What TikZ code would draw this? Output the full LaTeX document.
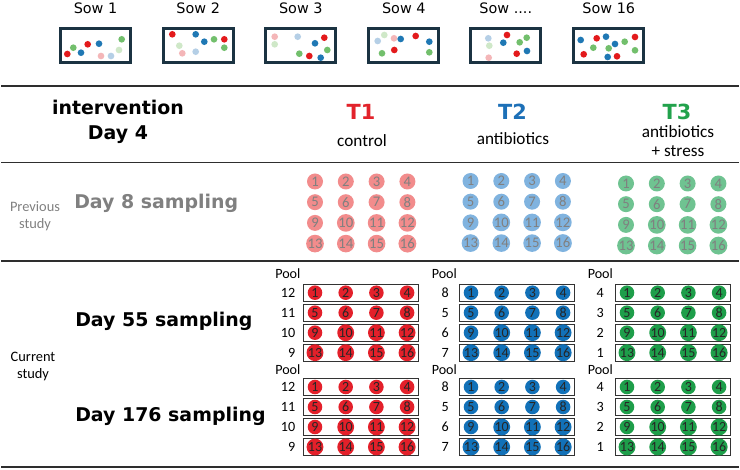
\documentclass[tikz,border=0pt]{standalone}
\usepackage{fontspec}
\setmainfont{DejaVu Sans}
\newfontfamily\calfont{Carlito}
\definecolor{SowFrame}{HTML}{1B3342}
\definecolor{SowR}{HTML}{E31A1C}
\definecolor{SowB}{HTML}{1F78B4}
\definecolor{SowG}{HTML}{72BF6C}
\definecolor{SowLR}{HTML}{F4B6B8}
\definecolor{SowLB}{HTML}{B5CFE6}
\definecolor{SowLG}{HTML}{CFE8C8}
\definecolor{TRed}{HTML}{E2232B}
\definecolor{TBlue}{HTML}{1D70B7}
\definecolor{TGreen}{HTML}{22A24C}
\definecolor{PrevRed}{HTML}{F28C8C}
\definecolor{PrevBlue}{HTML}{80B3DF}
\definecolor{PrevGreen}{HTML}{6FC391}
\definecolor{CurRed}{HTML}{E3202A}
\definecolor{CurBlue}{HTML}{1271B8}
\definecolor{CurGreen}{HTML}{1E9E4A}
\definecolor{RuleGray}{HTML}{2E2E2E}
\definecolor{LabelGray}{HTML}{808080}
\tikzset{
    sowbox/.style = {draw=SowFrame, line width=2.4pt, fill=white},
    sowlabel/.style = {anchor=base, inner sep=0pt, font=\fontsize{10.8}{12}\selectfont},
    headtitle/.style = {align=center, font=\bfseries\fontsize{14.2}{18.75}\selectfont},
    daylabel/.style = {anchor=base west, inner sep=0pt, font=\bfseries\fontsize{14.2}{17}\selectfont},
    tlabel/.style = {inner sep=0pt, font=\bfseries\fontsize{15.6}{18}\selectfont},
    treat/.style = {anchor=base, inner sep=0pt, font=\calfont\fontsize{12.9}{14.5}\selectfont},
    studylabel/.style = {align=center, font=\calfont\fontsize{10.8}{12.75}\selectfont},
    prevdot/.style = {circle, minimum size=12pt, inner sep=0pt, text=black!50, font=\calfont\fontsize{11}{11}\selectfont},
    curdot/.style = {circle, minimum size=10.9pt, inner sep=0pt, text=black!85, font=\calfont\fontsize{10.5}{10}\selectfont},
    poolbox/.style = {draw=black!80, line width=0.75pt},
    poollabel/.style = {inner sep=0pt, font=\calfont\fontsize{10.6}{12}\selectfont},
    sepline/.style = {draw=RuleGray, line width=1.3pt}
}
\newcommand{\sowdots}[2]{%
    \begin{scope}[shift={(#1,27)}]
        \foreach \cl/\px/\py in {#2} \fill[\cl] (\px,\py) circle (2.5pt);
    \end{scope}
}

\begin{document}
\begin{tikzpicture}[x=0.75pt, y=-0.75pt]
    \useasboundingbox (0,0) rectangle (740,470);

    \foreach \x/\lbl [count=\k] in {59/{Sow 1}, 161.7/{Sow 2}, 264.3/{Sow 3}, 367.3/{Sow 4}, 469.3/{Sow ....}, 572.3/{Sow 16}}{
        \node[sowlabel] (sow\k) at (\x+36.5,13.3) {\lbl};
        \draw[sowbox] (\x+1.5,28.5) rectangle (\x+71.5,62.5);
    }
    \sowdots{59}{SowR/8.3/27, SowG/14.3/20.7, SowR/28.7/17.3, SowB/22/25.7, SowB/40/16.7, SowG/62.7/12.3, SowLG/60/23, SowLR/42/29, SowLB/52/29}
    \sowdots{161.7}{SowR/10.6/7.3, SowB/34/7.3, SowB/42.6/14.7, SowG/52.3/12.3, SowR/62.6/12.3, SowG/62.6/20.7, SowLG/17.6/18.7, SowLR/20.6/26.3, SowLB/34/24.7}
    \sowdots{264.3}{SowLR/10.4/9.7, SowLG/10.4/17.3, SowLB/33.4/9.7, SowB/50.7/16.3, SowR/60/10.7, SowG/63/23, SowG/35/26.7, SowR/45/29, SowB/56.4/30.7}
    \sowdots{367.3}{SowLB/10.4/14, SowLG/17/8, SowLR/26.7/11.3, SowB/33.4/12, SowR/48.4/9, SowB/62/14.7, SowG/14.7/26.3, SowR/27/23, SowG/62/25.3}
    \sowdots{469.3}{SowLB/19/11.3, SowLG/20/18.7, SowLR/19.4/30.7, SowR/37.7/8, SowB/34/15.7, SowG/50.4/15.3, SowG/57.4/10.7, SowR/47.4/26.7, SowB/57.7/24}
    \sowdots{572.3}{SowB/8.4/13, SowR/24.4/11.3, SowB/33.7/9.7, SowB/42.7/17, SowG/52.4/14.7, SowR/62.7/10, SowG/62.7/23.3, SowG/21/20.7, SowG/36.4/21.3, SowR/11.4/27.3, SowB/35.4/30, SowR/44.7/29.3}

    \foreach \y in {86,162.5,261} \draw[sepline] (1.5,\y) -- (738.5,\y);
    \draw[sepline, line width=1.8pt] (1.5,467) -- (738.5,467);

    \node[headtitle] (interv) at (118,121.5) {intervention\\Day 4};
    \node[tlabel, text=TRed] (t1) at (361,112) {T1};
    \node[tlabel, text=TBlue] (t2) at (512.5,112) {T2};
    \node[tlabel, text=TGreen] (t3) at (677,112) {T3};
    \node[treat] (ctrl) at (362,146.5) {control};
    \node[treat] (anti) at (513,145) {antibiotics};
    \node[treat] (antis) at (678,137.3) {antibiotics};
    \node[treat] (stress) at (678,156.7) {+ stress};

    \node[studylabel, text=LabelGray] (prev) at (35,216) {Previous\\study};
    \node[daylabel, text=LabelGray] (day8) at (74,209) {Day 8 sampling};
    \foreach \grp/\col/\xs/\ys in {R/PrevRed/315/181.5, B/PrevBlue/470.5/181, G/PrevGreen/626/183.5}{
        \foreach \n in {1,...,16}{
            \pgfmathtruncatemacro\cl{mod(\n-1,4)}
            \pgfmathtruncatemacro\rw{div(\n-1,4)}
            \node[prevdot, fill=\col] (prev\grp\n) at (\xs+\cl*30.8,\ys+\rw*20.7) {\n};
        }
    }

    \node[studylabel] (curr) at (33,366) {Current\\study};
    \node[daylabel] (day55) at (75,326.5) {Day 55 sampling};
    \node[daylabel] (day176) at (75,421.7) {Day 176 sampling};
    \foreach \blk/\ys/\yp in {d55/292.7/273.3, d176/387/370}{
        \foreach \grp/\col/\xs/\xl/\xn/\pools in {R/CurRed/315/275/295.5/{12,11,10,9}, B/CurBlue/471/431.5/449/{8,5,6,7}, G/CurGreen/627/587.5/604/{4,3,2,1}}{
            \node[poollabel, anchor=west] (\blk\grp-pool) at (\xl,\yp) {Pool};
            \foreach \p [count=\rw from 0] in \pools{
                \node[poollabel, anchor=east] (\blk\grp-p\rw) at (\xn,\ys+\rw*20) {\p};
                \draw[poolbox] (\xs-11.5,\ys+\rw*20-8.5) rectangle (\xs+3*30.7+11.5,\ys+\rw*20+8.5);
                \foreach \cl in {0,...,3}{
                    \pgfmathtruncatemacro\n{4*\rw+\cl+1}
                    \node[curdot, fill=\col] (\blk\grp\n) at (\xs+\cl*30.7,\ys+\rw*20) {\n};
                }
            }
        }
    }
\end{tikzpicture}
\end{document}
